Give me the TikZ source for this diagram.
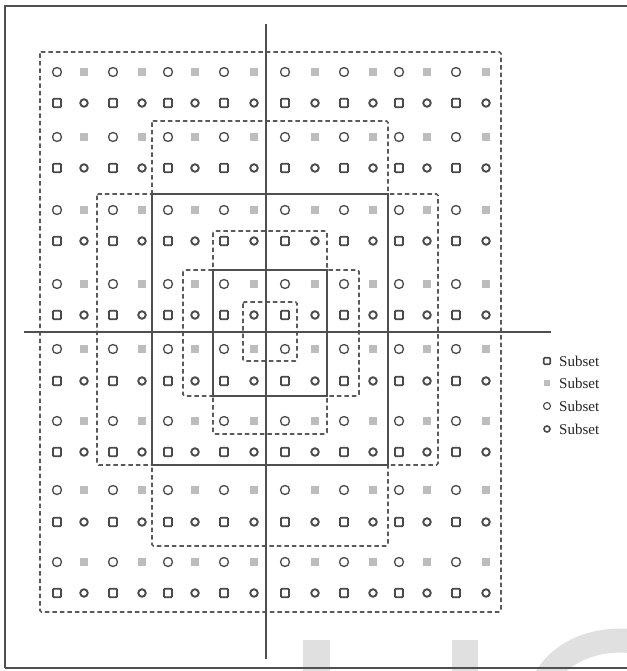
\documentclass[tikz,border=0pt]{standalone}
\usepackage{fontspec}
\setmainfont{Liberation Serif}
\begin{document}
\begin{tikzpicture}[x=1pt,y=-1pt]
\definecolor{lnc}{HTML}{4F4F4F}
\definecolor{dsc}{HTML}{5A5A5A}
\definecolor{mkc}{HTML}{4A4A4A}
\definecolor{lgc}{HTML}{BDBDBD}
\definecolor{wmc}{HTML}{E0E0E0}
\tikzset{
  dashbox/.style={draw=dsc, line width=1.6pt, dash pattern=on 4.5pt off 3pt, rounded corners=1.5pt},
  solidbox/.style={draw=lnc, line width=1.6pt},
  axisline/.style={draw=lnc, line width=1.5pt},
  frameline/.style={draw=lnc, line width=2pt},
  mcirc/.style={circle, draw=mkc, line width=1.3pt, minimum size=9pt, inner sep=0pt},
  mring/.style={circle, draw=mkc, line width=1.9pt, minimum size=7.5pt, inner sep=0pt},
  msq/.style={rectangle, rounded corners=1pt, draw=mkc, line width=1.9pt, minimum width=8pt, minimum height=8.5pt, inner sep=0pt},
  mfill/.style={rectangle, fill=lgc, minimum size=8.5pt, inner sep=0pt},
  legtext/.style={anchor=west, inner sep=0pt, font=\fontsize{15}{17}\selectfont, text=black!85}
}
\useasboundingbox (0,0) rectangle (626,671);
\fill[white] (0,0) rectangle (626,671);
% watermark fragments
\fill[wmc] (303,640) rectangle (330,671);
\fill[wmc] (452,640) rectangle (478,671);
\draw[wmc, line width=24pt] (545,680) arc[start angle=200, end angle=300, x radius=80pt, y radius=-60pt];
% frame
\draw[frameline] (5,668) -- (5,6) -- (630,6);
\draw[frameline] (5,668) -- (630,668);
% markers
\foreach \y [count=\j] in {72,137,210,284,349,421,490,562}{
  \foreach \x [count=\i] in {57,113,168,224,285,344,399,456}
    \node[mcirc] (a-\j-\i) at (\x,\y) {};
  \foreach \x [count=\i] in {84,142,195,254,315,373,427,486}
    \node[mfill] (b-\j-\i) at (\x,\y) {};
}
\foreach \y [count=\j] in {103,168,241,315,381,452,522,593}{
  \foreach \x [count=\i] in {57,113,168,224,285,344,399,456}
    \node[msq] (c-\j-\i) at (\x,\y) {};
  \foreach \x [count=\i] in {84,142,195,254,315,373,427,486}
    \node[mring] (d-\j-\i) at (\x,\y) {};
}
% dashed rectangles
\draw[dashbox] (40,52) rectangle (501,612);
\draw[dashbox] (152,121) rectangle (388,546);
\draw[dashbox] (97,194) rectangle (438,465);
\draw[dashbox] (213,231) rectangle (327,434);
\draw[dashbox] (183,270) rectangle (359,396);
\draw[dashbox] (243,302) rectangle (297,361);
% solid rectangles
\draw[solidbox] (152,194) rectangle (388,465);
\draw[solidbox] (213,270) rectangle (327,396);
% axes
\draw[axisline] (266,24) -- (266,659);
\draw[axisline] (24,332) -- (551,332);
% legend
\node[msq, minimum width=6.5pt, minimum height=6.5pt, line width=1.6pt] (l1) at (547,361) {};
\node[mfill, minimum size=6.5pt] (l2) at (547,383) {};
\node[mcirc, minimum size=7pt, line width=1.1pt] (l3) at (547,406) {};
\node[mring, minimum size=6pt, line width=1.6pt] (l4) at (547,429) {};
\node[legtext] (t1) at (559,361) {Subset};
\node[legtext] (t2) at (559,383) {Subset};
\node[legtext] (t3) at (559,406) {Subset};
\node[legtext] (t4) at (559,429) {Subset};
\end{tikzpicture}
\end{document}
